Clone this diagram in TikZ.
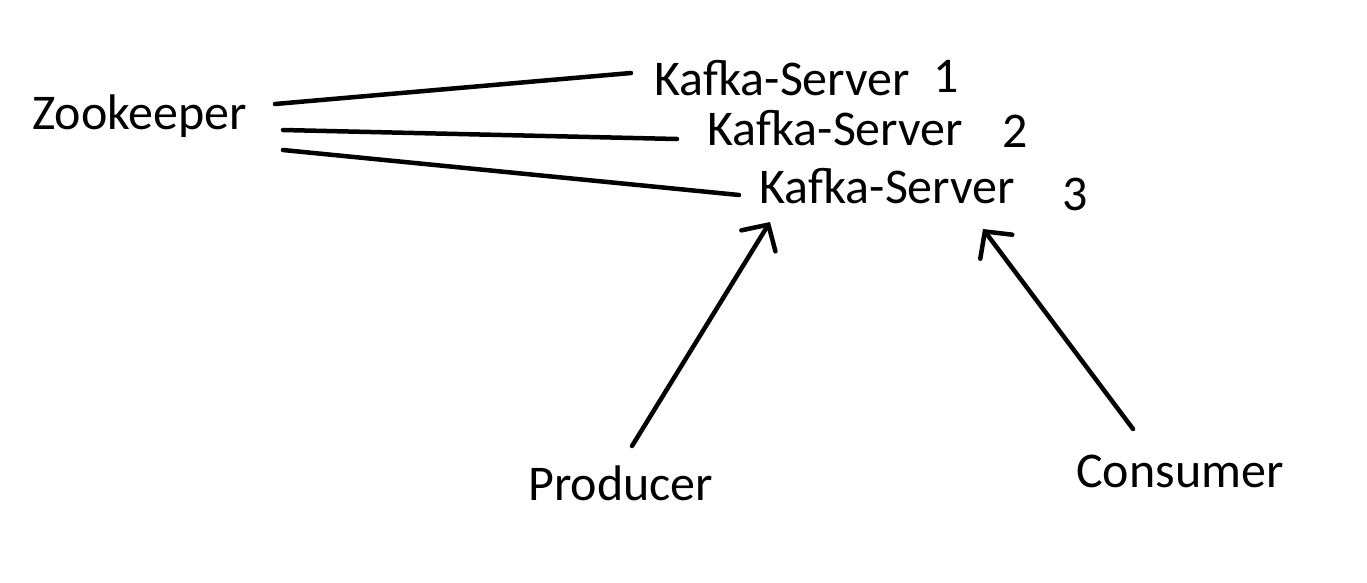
\documentclass[tikz,border=0pt]{standalone}
\usepackage{fontspec}
\setmainfont{Carlito}
\usetikzlibrary{arrows.meta}
\begin{document}
\begin{tikzpicture}[x=1pt,y=-1pt,
  lbl/.style={anchor=base west,inner sep=0pt,font=\fontsize{50}{58}\selectfont},
  conn/.style={line width=4.5pt,line cap=round},
  arr/.style={conn,-{Straight Barb[length=19pt,width=40pt,line cap=round]}}]
\fill[white] (0,0) rectangle (1367,582);
\useasboundingbox (0,0) rectangle (1367,582);
\node[lbl] (zk) at (32,129) {Zookeeper};
\node[lbl] (k1) at (654,95) {Kafka-Server};
\node[lbl] (n1) at (933,92) {1};
\node[lbl] (k2) at (707,145) {Kafka-Server};
\node[lbl] (n2) at (1002,147) {2};
\node[lbl] (k3) at (759,203) {Kafka-Server};
\node[lbl] (n3) at (1062,210) {3};
\node[lbl] (pr) at (528,500) {Producer};
\node[lbl] (co) at (1076,487) {Consumer};
\coordinate (z1) at (275,104);
\coordinate (z2) at (283,130);
\coordinate (z3) at (283,150);
\coordinate (s1) at (631,73);
\coordinate (s2) at (677,139);
\coordinate (s3) at (739,195);
\coordinate (pe) at (632,446);
\coordinate (pt) at (770,222);
\coordinate (ce) at (1133,429);
\coordinate (ct) at (983,229);
\draw[conn] (z1) -- (s1);
\draw[conn] (z2) -- (s2);
\draw[conn] (z3) -- (s3);
\draw[arr] (pe) -- (pt);
\draw[arr] (ce) -- (ct);
\end{tikzpicture}
\end{document}
